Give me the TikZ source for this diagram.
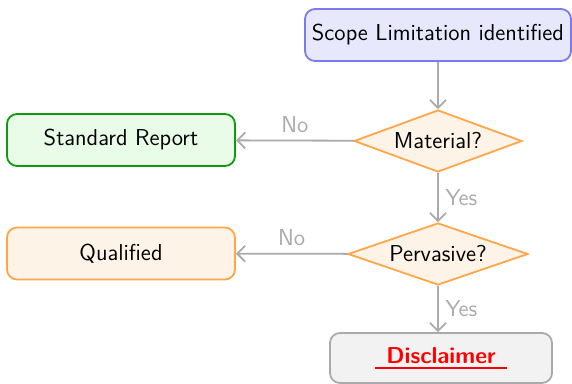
\documentclass[tikz,border=0pt]{standalone}
\usetikzlibrary{shapes.geometric,arrows.meta}
\definecolor{bluebd}{HTML}{7B7BEE}
\definecolor{bluefl}{HTML}{E8E8FC}
\definecolor{greenbd}{HTML}{119911}
\definecolor{greenfl}{HTML}{E8FCE8}
\definecolor{orangebd}{HTML}{FFA54A}
\definecolor{orangefl}{HTML}{FDF3E7}
\definecolor{graybd}{HTML}{AAAAAA}
\definecolor{grayfl}{HTML}{F2F2F2}
\definecolor{linegray}{HTML}{AAAAAA}
\newcommand{\redul}[1]{\setbox0\hbox{\hspace{5.5pt}#1\hspace{5.5pt}}\rlap{\usebox0}\raisebox{-2.6pt}{\textcolor{red}{\rule{\wd0}{0.9pt}}}}
\begin{document}
\begin{tikzpicture}[x=0.5pt,y=-0.5pt,font=\sffamily\fontsize{11.5}{13.5}\selectfont,
  box/.style={rectangle,rounded corners=5pt,line width=0.9pt,inner sep=0pt},
  decision/.style={diamond,draw=orangebd,fill=orangefl,line width=0.9pt,inner sep=0pt,aspect=2.7},
  conn/.style={draw=linegray,line width=0.9pt,-{Straight Barb[length=4pt,width=8pt]}},
  lbl/.style={text=linegray}]
\useasboundingbox (0,0) rectangle (572,384);
\node[box,draw=bluebd,fill=bluefl,minimum width=133pt,minimum height=26pt] (scope) at (438,35) {Scope Limitation identified};
\node[decision,minimum width=84pt,minimum height=31pt] (material) at (438,141) {Material?};
\node[decision,minimum width=90pt,minimum height=31pt] (pervasive) at (438,254) {Pervasive?};
\node[box,draw=greenbd,fill=greenfl,minimum width=114pt,minimum height=26pt] (standard) at (121,140) {Standard Report};
\node[box,draw=orangebd,fill=orangefl,minimum width=114pt,minimum height=26pt] (qualified) at (121,253.5) {Qualified};
\node[box,draw=graybd,fill=grayfl,minimum width=111pt,minimum height=25pt,text=red] (disclaimer) at (441,358) {\redul{\textbf{Disclaimer}}};
\draw[conn] (scope) -- (material);
\draw[conn] (material) -- node[lbl,right,pos=0.5] {Yes} (pervasive);
\draw[conn] (material) -- node[lbl,above,pos=0.5] {No} (standard);
\draw[conn] (pervasive) -- node[lbl,above,pos=0.5] {No} (qualified);
\draw[conn] (pervasive.south) -- node[lbl,right,pos=0.5] {Yes} (pervasive.south |- disclaimer.north);
\end{tikzpicture}
\end{document}
